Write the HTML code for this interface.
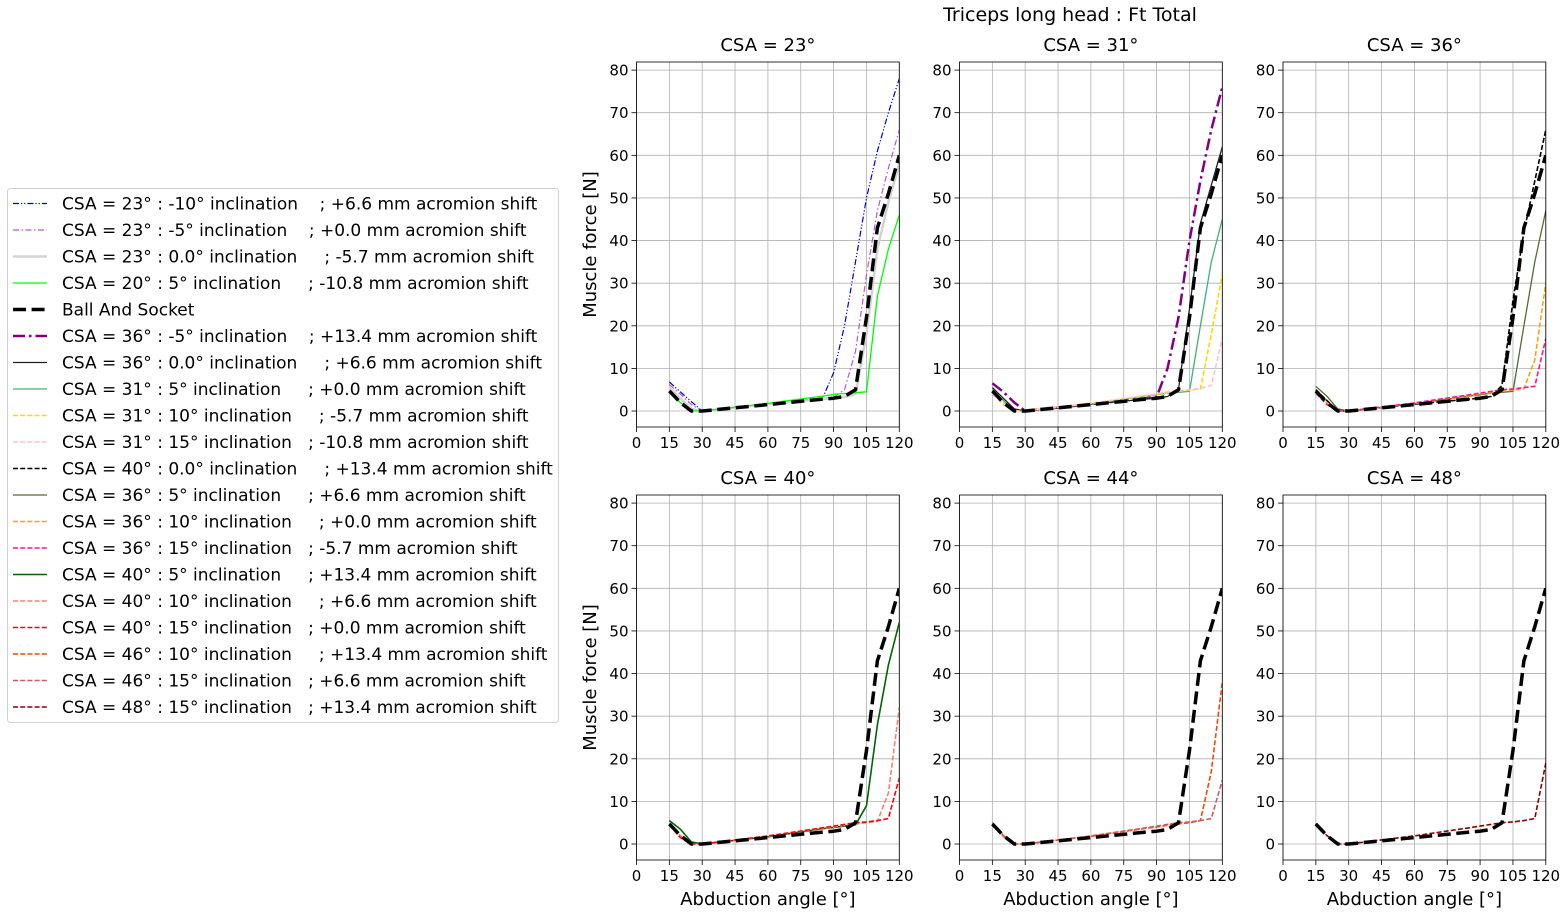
<!DOCTYPE html>
<html><head><meta charset="utf-8">
<style>
body{margin:0;background:#fff;width:1568px;height:917px;overflow:hidden;font-family:"DejaVu Sans","Liberation Sans",sans-serif;}
svg text{font-family:"DejaVu Sans","Liberation Sans",sans-serif;}
</style></head><body>
<svg id="fig" width="1568" height="917" xmlns="http://www.w3.org/2000/svg">
<rect width="1568" height="917" fill="#fff"/>
<text x="1070" y="21" font-size="19" text-anchor="middle">Triceps long head : Ft Total</text>
</svg>
<script>
const X = [15,20,25,30,60,85,90,95,100,105,110,115,120];
const xTicks = [0,15,30,45,60,75,90,105,120];
const yTicks = [0,10,20,30,40,50,60,70,80];
const panelTitles = ["CSA = 23°","CSA = 31°","CSA = 36°","CSA = 40°","CSA = 44°","CSA = 48°"];
const ballSocket = [4.7,2,0,0,1.5,2.8,3,3.4,5,22,43,51,60];
const s23m10 = [6.8,4.5,2.2,0,1.7,3,9,20,35,50,61,70,78];
const s23m5 = [6.2,4,1.5,0,1.7,3,3.2,5,14,32,47,57,66];
const s23z = [5.5,3,0.5,0,1.6,2.8,3,3.3,4,18,38,49,58];
const s20p5 = [4.5,2,0,0,1.8,3.5,3.9,4.1,4.3,4.5,27,38,46];
const s36m5 = [6.5,4.5,2,0,1.6,3,3.3,10,22,40,54,66,76];
const s36z = [5.5,3,0.5,0,1.6,2.8,3,3.4,5,24,44,53,62];
const s31p5 = [5,2.5,0,0,1.7,3.5,3.8,4.2,4.4,4.6,20,35,45];
const s31p10 = [4.5,2,0,0,1.8,3.6,3.9,4.3,4.6,4.9,5.2,18,32];
const s31p15 = [4,1.5,0,0,1.8,3.7,4,4.5,4.8,5,5.3,6,17];
const s40z = [5,2.5,0,0,1.6,2.8,3,3.4,6,26,42,54,66];
const s36p5 = [5.8,3.5,0.5,0,1.7,3.5,3.8,4.2,4.4,4.6,20,35,47];
const s36p10 = [4.6,2,0,0,1.8,3.6,4,4.3,4.6,4.9,5.2,12,30];
const s36p15 = [4.2,1.5,0,0,1.9,3.8,4.2,4.6,5,5.2,5.5,5.8,17];
const s40p5 = [5.5,3.5,0.5,0,1.7,3.6,3.9,4.2,4.5,9,28,42,52];
const s40p10 = [4.8,2,0,0,1.8,3.7,4,4.4,4.7,5,5.3,12,32];
const s40p15 = [4.5,1.5,0,0,1.9,3.8,4.2,4.6,5,5.2,5.5,6,15.5];
const s46p10 = [5,2,0,0,1.8,3.7,4,4.4,4.7,5,5.5,17,38];
const s46p15 = [4.6,1.8,0,0,1.9,3.8,4.2,4.6,5,5.2,5.5,6,15];
const s48p15 = [4.8,2,0,0,1.9,3.8,4.2,4.6,5,5.2,5.5,6,19];

const DD="6,2.5,1.5,2.5", DASH="5,2.2";
const series = [
 {key:"csa23-m10",label:"CSA = 23° : -10° inclination    ; +6.6 mm acromion shift",ys:s23m10,c:"#0000cd",w:1.2,d:"6,2,1.2,2,1.2,2",p:0},
 {key:"csa23-m5",label:"CSA = 23° : -5° inclination    ; +0.0 mm acromion shift",ys:s23m5,c:"#ba55d3",w:1.2,d:DD,p:0},
 {key:"csa23-0",label:"CSA = 23° : 0.0° inclination     ; -5.7 mm acromion shift",ys:s23z,c:"#d3d3d3",w:2.5,d:"",p:0},
 {key:"csa20-5",label:"CSA = 20° : 5° inclination     ; -10.8 mm acromion shift",ys:s20p5,c:"#00ff00",w:1.3,d:"",p:0},
 {key:"ball-socket",label:"Ball And Socket",ys:ballSocket,c:"#000",w:3.5,d:"13,5.6",p:-1},
 {key:"csa36-m5",label:"CSA = 36° : -5° inclination    ; +13.4 mm acromion shift",ys:s36m5,c:"#800080",w:2.5,d:"12,4,2.5,4",p:1},
 {key:"csa36-0",label:"CSA = 36° : 0.0° inclination     ; +6.6 mm acromion shift",ys:s36z,c:"#222",w:1.3,d:"",p:1},
 {key:"csa31-5",label:"CSA = 31° : 5° inclination     ; +0.0 mm acromion shift",ys:s31p5,c:"#3cb371",w:1.3,d:"",p:1},
 {key:"csa31-10",label:"CSA = 31° : 10° inclination     ; -5.7 mm acromion shift",ys:s31p10,c:"#ffd700",w:1.6,d:DASH,p:1},
 {key:"csa31-15",label:"CSA = 31° : 15° inclination   ; -10.8 mm acromion shift",ys:s31p15,c:"#ffc0cb",w:1.6,d:DASH,p:1},
 {key:"csa40-0",label:"CSA = 40° : 0.0° inclination     ; +13.4 mm acromion shift",ys:s40z,c:"#000",w:1.6,d:DASH,p:2},
 {key:"csa36-5",label:"CSA = 36° : 5° inclination     ; +6.6 mm acromion shift",ys:s36p5,c:"#556b2f",w:1.3,d:"",p:2},
 {key:"csa36-10",label:"CSA = 36° : 10° inclination     ; +0.0 mm acromion shift",ys:s36p10,c:"#ffa500",w:1.6,d:DASH,p:2},
 {key:"csa36-15",label:"CSA = 36° : 15° inclination   ; -5.7 mm acromion shift",ys:s36p15,c:"#ff1493",w:1.6,d:DASH,p:2},
 {key:"csa40-5",label:"CSA = 40° : 5° inclination     ; +13.4 mm acromion shift",ys:s40p5,c:"#006400",w:1.6,d:"",p:3},
 {key:"csa40-10",label:"CSA = 40° : 10° inclination     ; +6.6 mm acromion shift",ys:s40p10,c:"#fa8072",w:1.6,d:DASH,p:3},
 {key:"csa40-15",label:"CSA = 40° : 15° inclination   ; +0.0 mm acromion shift",ys:s40p15,c:"#ff0000",w:1.6,d:DASH,p:3},
 {key:"csa46-10",label:"CSA = 46° : 10° inclination     ; +13.4 mm acromion shift",ys:s46p10,c:"#ff4500",w:1.6,d:DASH,p:4},
 {key:"csa46-15",label:"CSA = 46° : 15° inclination   ; +6.6 mm acromion shift",ys:s46p15,c:"#cd5c5c",w:1.6,d:DASH,p:4},
 {key:"csa48-15",label:"CSA = 48° : 15° inclination   ; +13.4 mm acromion shift",ys:s48p15,c:"#8b0000",w:1.6,d:DASH,p:5}
];
const NS="http://www.w3.org/2000/svg";
const svg=document.getElementById('fig');
function mk(tag,attrs,parent){const e=document.createElementNS(NS,tag);for(const k in attrs)e.setAttribute(k,attrs[k]);(parent||svg).appendChild(e);return e;}
const panels=[[636.5,62],[959.5,62],[1283,62],[636.5,495],[959.5,495],[1283,495]];
const PW=262.8, PH=365, YMIN=-3.75, YMAX=81.9;
panels.forEach((pp,i)=>{
  const [x0,y0]=pp;
  const g=mk('g',{});
  
  
  const sx=v=>x0+v/120*PW;
  const sy=v=>y0+(YMAX-v)/(YMAX-YMIN)*PH;
  xTicks.forEach(t=>{
    mk('line',{x1:sx(t),x2:sx(t),y1:y0,y2:y0+PH,stroke:'#b0b0b0','stroke-width':0.8},g);
    mk('line',{x1:sx(t),x2:sx(t),y1:y0+PH,y2:y0+PH+5,stroke:'#000','stroke-width':0.8},g);
    const tx=mk('text',{x:sx(t),y:y0+PH+21,'font-size':15,'text-anchor':'middle'},g);tx.textContent=t;
    
    
  });
  yTicks.forEach(t=>{
    mk('line',{x1:x0,x2:x0+PW,y1:sy(t),y2:sy(t),stroke:'#b0b0b0','stroke-width':0.8},g);
    mk('line',{x1:x0-5,x2:x0,y1:sy(t),y2:sy(t),stroke:'#000','stroke-width':0.8},g);
    const tx=mk('text',{x:x0-8,y:sy(t)+5.5,'font-size':15,'text-anchor':'end'},g);tx.textContent=t;
    
    
  });
  const clip=mk('clipPath',{id:'c'+i},g);mk('rect',{x:x0,y:y0,width:PW,height:PH},clip);
  const lines=series.filter(s=>s.p===i&&s.key!=='ball-socket');
  lines.push(series.find(s=>s.key==='ball-socket'));
  lines.forEach(s=>{
    const pts=X.map((xv,k)=>sx(xv).toFixed(1)+','+sy(s.ys[k]).toFixed(1)).join(' ');
    const pl=mk('polyline',{points:pts,fill:'none',stroke:s.c,'stroke-width':s.w,'stroke-dasharray':s.d||'none','clip-path':'url(#c'+i+')','stroke-linejoin':'round'},g);
    
    
  });
  mk('rect',{x:x0,y:y0,width:PW,height:PH,fill:'none',stroke:'#000','stroke-width':0.8},g);
  const tt=mk('text',{x:x0+PW/2,y:y0-11,'font-size':18,'text-anchor':'middle'},g);tt.textContent=panelTitles[i];
  
  
  if(i>=3){const xl=mk('text',{x:x0+PW/2,y:y0+PH+45,'font-size':18,'text-anchor':'middle'},g);xl.textContent='Abduction angle [°]';
    
    }
  if(i===0||i===3){const cy=y0+PH/2;const yl=mk('text',{x:596,y:cy,'font-size':18,'text-anchor':'middle',transform:'rotate(-90 596 '+cy+')'},g);yl.textContent='Muscle force [N]';
    
    }
});
// legend
const lg=mk('g',{});


mk('rect',{x:7.5,y:188.5,width:551,height:534,rx:3,fill:'#fff',stroke:'#d0d0d0','stroke-width':1},lg);
series.forEach((s,k)=>{
  const y=203.5+k*26.5;
  const e=mk('g',{},lg);
  
  
  mk('line',{x1:13,x2:47,y1:y,y2:y,stroke:s.c,'stroke-width':s.w,'stroke-dasharray':s.d||'none'},e);
  const t=mk('text',{x:62,y:y+6,'font-size':17,'xml:space':'preserve',style:'white-space:pre'},e);t.textContent=s.label;
});
</script>
</body></html>
